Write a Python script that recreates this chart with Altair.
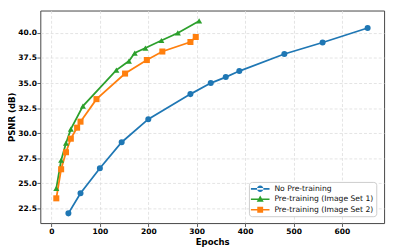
import altair as alt
import pandas as pd

series_names = ["No Pre-training", "Pre-training (Image Set 1)", "Pre-training (Image Set 2)"]
colors = ["#1f77b4", "#2ca02c", "#ff7f0e"]

no_pre_x = [35, 60, 100, 145, 200, 287, 329, 360, 388, 481, 560, 653]
no_pre_y = [22.0, 24.0, 26.5, 29.1, 31.4, 33.9, 35.0, 35.6, 36.2, 37.9, 39.05, 40.5]

set1_x = [10, 20, 30, 40, 65, 134, 160, 172, 194, 227, 261, 305]
set1_y = [24.5, 27.3, 29.0, 30.4, 32.7, 36.3, 37.2, 38.0, 38.5, 39.25, 40.0, 41.2]

set2_x = [10, 20, 30, 40, 53, 60, 93, 152, 197, 229, 287, 298]
set2_y = [23.5, 26.4, 28.1, 29.45, 30.55, 31.15, 33.4, 35.95, 37.3, 38.15, 39.1, 39.6]

x_ticks = [0, 100, 200, 300, 400, 500, 600]
y_ticks = [22.5, 25.0, 27.5, 30.0, 32.5, 35.0, 37.5, 40.0]

rows = []
for name, xs, ys in zip(series_names, [no_pre_x, set1_x, set2_x], [no_pre_y, set1_y, set2_y]):
    for xv, yv in zip(xs, ys):
        rows.append({"series": name, "epochs": xv, "psnr": yv})
df = pd.DataFrame(rows)

FONT = "DejaVu Sans"

x_enc = alt.X("epochs:Q", scale=alt.Scale(domain=[-23, 687], nice=False, zero=False),
              axis=alt.Axis(values=x_ticks, title="Epochs", format="d"))
y_enc = alt.Y("psnr:Q", scale=alt.Scale(domain=[21.03, 42.24], nice=False, zero=False),
              axis=alt.Axis(values=y_ticks, title="PSNR (dB)", format=".1f"))

color_nolegend = alt.Color("series:N", scale=alt.Scale(domain=series_names, range=colors), legend=None)

base = alt.Chart(df)

lines = base.mark_line(strokeWidth=1.8).encode(x=x_enc, y=y_enc, color=color_nolegend)

points = base.mark_point(filled=True, opacity=1, size=38).encode(
    x=x_enc, y=y_enc, color=color_nolegend,
    shape=alt.Shape("series:N", scale=alt.Scale(domain=series_names,
                                                range=["circle", "triangle-up", "square"]), legend=None),
)

line_part = "M-1,-0.17H2.8V0.17H-1Z"
legend_shapes = [
    line_part + "M0.24,0A0.66,0.66 0 1,0 1.56,0A0.66,0.66 0 1,0 0.24,0Z",
    line_part + "M0.9,-0.78L1.62,0.5H0.18Z",
    line_part + "M0.3,-0.6H1.5V0.6H0.3Z",
]

leg = alt.Legend(title=None, orient="none", legendX=213, legendY=175,
                 symbolSize=100, symbolOpacity=1, labelOffset=14,
                 labelFont=FONT, labelFontSize=7.8, labelColor="#111",
                 padding=2, rowPadding=1.7, strokeColor="#cccccc",
                 fillColor="white", cornerRadius=3, symbolStrokeWidth=0)

legend_layer = base.mark_point(filled=True, opacity=0).encode(
    x=x_enc, y=y_enc,
    color=alt.Color("series:N", scale=alt.Scale(domain=series_names, range=colors), legend=leg),
    shape=alt.Shape("series:N", scale=alt.Scale(domain=series_names, range=legend_shapes), legend=leg),
)

main = alt.layer(lines, points)

chart = alt.layer(main, legend_layer).resolve_scale(
    color="independent", shape="independent"
).properties(
    width=351, height=217,
    autosize=alt.AutoSizeParams(type="none"),
    padding={"left": 33, "top": 0, "right": 5, "bottom": 30},
).configure_view(
    stroke="#444444", strokeWidth=1
).configure_axis(
    domain=False,
    grid=True, gridColor="#dddddd", gridDash=[3, 2], gridWidth=0.8,
    ticks=True, tickSize=3.5, tickColor="#333333", tickWidth=0.8,
    labelFont=FONT, labelFontSize=7.7, labelFontWeight="bold", labelColor="#000",
    titleFont=FONT, titleFontSize=8.7, titleFontWeight="bold", titleColor="#000",
    labelPadding=0.5,
).configure_axisX(
    titlePadding=2, labelPadding=1.5,
).configure_axisY(
    titlePadding=1,
)

chart.save("out.html", embed_options={"renderer": "svg", "actions": False})
